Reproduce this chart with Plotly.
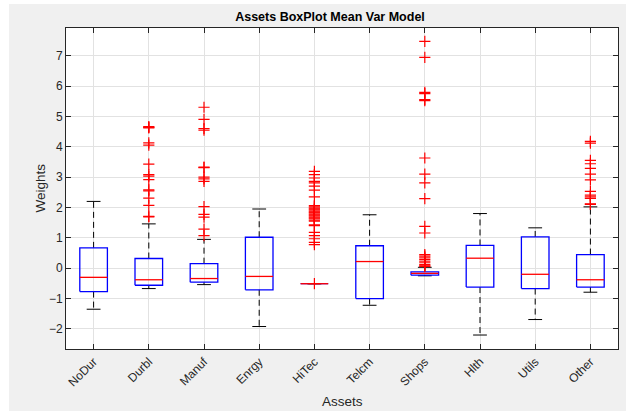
import plotly.graph_objects as go

# Asset categories and per-asset box statistics (portfolio weights)
assets = ["NoDur", "Durbl", "Manuf", "Enrgy", "HiTec", "Telcm", "Shops", "Hlth", "Utils", "Other"]
upper_whisker = [2.20, 1.46, 0.95, 1.95, -0.51, 1.76, 0.03, 1.80, 1.33, 2.02]
q3 = [0.67, 0.32, 0.15, 1.02, -0.51, 0.74, -0.12, 0.75, 1.03, 0.45]
median = [-0.30, -0.38, -0.34, -0.27, -0.51, 0.22, -0.17, 0.33, -0.20, -0.38]
q1 = [-0.77, -0.56, -0.46, -0.71, -0.51, -1.00, -0.23, -0.62, -0.67, -0.62]
lower_whisker = [-1.35, -0.67, -0.54, -1.92, -0.51, -1.22, -0.25, -2.20, -1.69, -0.79]

# Outlying weights per asset
out_nodur = []
out_durbl = [4.66, 4.64, 4.62, 4.13, 4.05, 3.43, 3.08, 3.03, 2.92, 2.58, 2.55, 2.31, 2.07, 1.71, 1.69]
out_manuf = [5.30, 4.90, 4.60, 4.55, 3.33, 3.31, 3.00, 2.94, 2.86, 2.03, 1.77, 1.68, 1.29, 1.07]
out_enrgy = []
out_hitec = [3.19, 3.08, 2.97, 2.86, 2.81, 2.70, 2.57, 2.35, 2.06, 2.02, 1.98, 1.95, 1.92,
             1.88, 1.85, 1.82, 1.78, 1.75, 1.72, 1.68, 1.65, 1.62, 1.58, 1.55, 1.43, 1.40,
             1.18, 1.07, 0.97, 0.85, 0.78, -0.51]
out_telcm = []
out_shops = [7.47, 6.94, 5.79, 5.75, 5.55, 5.52, 3.63, 3.10, 2.81, 2.29, 1.38, 1.16,
             0.45, 0.40, 0.34, 0.28, 0.23, 0.18, 0.12, 0.08, 0.06]
out_hlth = []
out_utils = []
out_other = [4.18, 4.12, 3.55, 3.44, 3.29, 3.10, 2.91, 2.53, 2.41, 2.35, 2.30, 2.12, 2.10]
outliers = [out_nodur, out_durbl, out_manuf, out_enrgy, out_hitec,
            out_telcm, out_shops, out_hlth, out_utils, out_other]

y_ticks = [-2, -1, 0, 1, 2, 3, 4, 5, 6, 7]

BOX_HALF = 0.25
CAP_HALF = 0.125
FONT = "Liberation Sans, Arial, sans-serif"
TXT = "#262626"

wx, wy, cx, cy, bx, by, mx, my, ox, oy = ([] for _ in range(10))
for i in range(len(assets)):
    x = i + 1
    # dashed whiskers from box edges to adjacent values
    wx += [x, x, None, x, x, None]
    wy += [q3[i], upper_whisker[i], None, q1[i], lower_whisker[i], None]
    # whisker caps
    cx += [x - CAP_HALF, x + CAP_HALF, None, x - CAP_HALF, x + CAP_HALF, None]
    cy += [upper_whisker[i], upper_whisker[i], None, lower_whisker[i], lower_whisker[i], None]
    # box outline
    bx += [x - BOX_HALF, x + BOX_HALF, x + BOX_HALF, x - BOX_HALF, x - BOX_HALF, None]
    by += [q1[i], q1[i], q3[i], q3[i], q1[i], None]
    # median line
    mx += [x - BOX_HALF, x + BOX_HALF, None]
    my += [median[i], median[i], None]
    ox += [x] * len(outliers[i])
    oy += outliers[i]

fig = go.Figure()
fig.add_trace(go.Scatter(x=wx, y=wy, mode="lines", line=dict(color="black", width=1, dash="6px,4px"),
                         hoverinfo="skip"))
fig.add_trace(go.Scatter(x=cx, y=cy, mode="lines", line=dict(color="black", width=1), hoverinfo="skip"))
fig.add_trace(go.Scatter(x=bx, y=by, mode="lines", line=dict(color="#0000ff", width=1.3), hoverinfo="skip"))
fig.add_trace(go.Scatter(x=mx, y=my, mode="lines", line=dict(color="#ff0000", width=1.3), hoverinfo="skip"))
fig.add_trace(go.Scatter(x=ox, y=oy, mode="markers",
                         marker=dict(symbol="cross-thin", size=8, line=dict(color="#ff0000", width=1.2))))

axis_common = dict(
    showline=True, linecolor=TXT, linewidth=1, mirror="ticks",
    ticks="inside", ticklen=5, tickcolor=TXT, tickwidth=1,
    showgrid=True, gridcolor="#e2e2e2", gridwidth=1, zeroline=False,
    tickfont=dict(family=FONT, size=12, color=TXT),
)

fig.update_layout(
    width=626, height=411,
    margin=dict(l=66, r=8, t=28, b=62),
    paper_bgcolor="#f0f0f0", plot_bgcolor="white",
    showlegend=False,
    xaxis=dict(range=[0.5, 10.5], tickmode="array", tickvals=list(range(1, len(assets) + 1)),
               ticktext=assets, tickangle=-45, **axis_common),
    yaxis=dict(range=[-2.66, 7.91], tickmode="array", tickvals=y_ticks, **axis_common),
    title=dict(text="<b>Assets BoxPlot Mean Var Model</b>", x=330 / 626, xanchor="center",
               y=1 - 17 / 411, yanchor="middle", yref="container",
               font=dict(family=FONT, size=12.5, color="black")),
    annotations=[
        dict(text="Assets", xref="paper", yref="paper", x=0.5, y=0, yshift=-52, yanchor="middle",
             showarrow=False, font=dict(family=FONT, size=13.5, color=TXT)),
        dict(text="Weights", xref="paper", yref="paper", x=0, y=0.5, xshift=-26, textangle=-90,
             xanchor="center", showarrow=False, font=dict(family=FONT, size=13.5, color=TXT)),
    ],
    shapes=[
        # thin white strips along the left and top edges of the canvas
        dict(type="rect", xref="paper", yref="paper", x0=-66 / 552, x1=-57 / 552, y0=-62 / 321, y1=(321 + 28) / 321,
             fillcolor="white", line=dict(width=0), layer="below"),
        dict(type="rect", xref="paper", yref="paper", x0=-66 / 552, x1=(552 + 8) / 552, y0=(321 + 24) / 321,
             y1=(321 + 28) / 321, fillcolor="white", line=dict(width=0), layer="below"),
    ],
)

fig.write_html("out.html")
